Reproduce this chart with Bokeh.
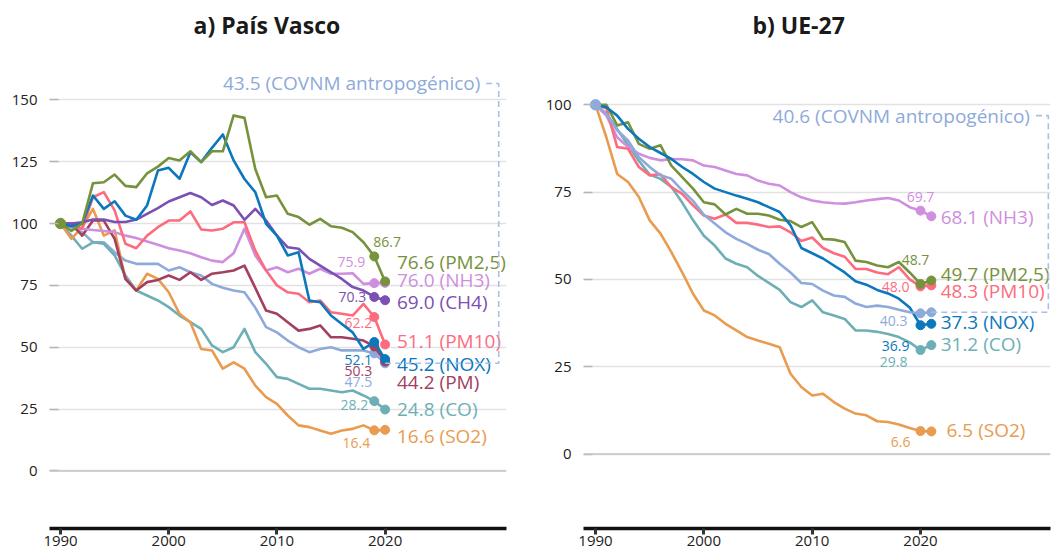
from bokeh.plotting import figure
from bokeh.layouts import row
from bokeh.models import ColumnDataSource, FixedTicker, Span
from bokeh.embed import file_html
from bokeh.resources import INLINE
from bokeh.core.properties import value

FONT = "Open Sans"

# ---------------- data: a) País Vasco (1990-2020) ----------------
pv_years = list(range(1990, 2021))
pv_pm25 = [100, 97, 100, 116.3, 116.7, 119.8, 115.2, 114.7, 120.3, 123, 126.5, 125.5, 129.2, 124.8, 129.2, 129.2,
           143.7, 142.7, 122, 110.6, 111.3, 103.9, 102.6, 99.5, 101.9, 98.9, 98.3, 96.5, 92.4, 86.7, 76.6]
pv_nh3 = [100, 98.9, 97.9, 97.4, 97, 96.5, 95.1, 94.1, 92.7, 91.4, 90, 89.1, 88, 86.4, 85, 84.4,
          88, 97.9, 87.1, 81, 82.3, 80.3, 81.7, 79.7, 81.7, 79.7, 79.7, 79.9, 75.6, 75.9, 76.0]
pv_ch4 = [100, 100, 100.5, 101.6, 101.6, 100.6, 100.6, 101.6, 103.9, 106.2, 108.9, 110.6, 112.3, 110.6, 107.5, 109.3,
          107.3, 101.5, 105.9, 101.2, 95.1, 90.4, 89.8, 85.7, 83, 80.3, 77.6, 74.3, 72.9, 70.3, 69.0]
pv_pm10 = [100, 99, 98, 110.6, 112.7, 105.3, 91.8, 90, 95.1, 98.5, 101.2, 101.2, 104.9, 97.6, 97.2, 97.9,
           100.5, 100.5, 89, 81, 75, 72.2, 71.6, 68.2, 68.9, 64.1, 63.5, 62.8, 67.5, 62.2, 51.1]
pv_nox = [100, 98.9, 100, 111.3, 105.9, 109, 103.2, 101.5, 107.3, 121.4, 122.5, 118.1, 128.8, 124.8, 130.6, 136,
          125.5, 118, 112.7, 99.9, 95.1, 87.1, 88.4, 68.9, 68.2, 62.8, 59.4, 56, 49.3, 52.1, 45.2]
pv_pm = [100, 100, 95.1, 101.2, 101.2, 93.8, 77.6, 72.9, 76.3, 77.2, 79, 77.2, 80.3, 77.2, 79.7, 80.3,
         81, 83, 74, 64.8, 63.5, 60.1, 56.7, 57.4, 58.8, 54, 54, 53.4, 52.7, 50.3, 44.2]
pv_covnm = [100, 98.5, 96.5, 92.4, 92.4, 88.4, 85, 83.7, 83.7, 83.7, 81, 82.3, 80.3, 79, 75.6, 74,
            72.9, 72.2, 66, 58.1, 56, 52.7, 50, 48, 49.3, 50, 48.7, 48.7, 48.7, 47.5, 43.5]
pv_co = [100, 95.1, 89.8, 92.4, 91.8, 87.1, 79, 72.9, 70.9, 68.9, 66.2, 62.8, 60.1, 57.4, 50.7, 48,
         50, 57.4, 48, 43.3, 37.9, 37.2, 35.2, 33.2, 33.2, 32.5, 31.8, 32.5, 30.5, 28.2, 24.8]
pv_so2 = [100, 93.8, 98.5, 105.9, 95.1, 97.2, 77.6, 72.9, 79.7, 77.6, 72.2, 63.5, 60.1, 49.3, 48.7, 41.3,
          43.9, 41.3, 34.5, 29.8, 27.1, 22.4, 18.4, 17.7, 16.3, 15, 16.3, 17, 18.4, 16.4, 16.6]

# ---------------- data: b) UE-27 (1990-2021) ----------------
eu_years = list(range(1990, 2022))
eu_pm25 = [100, 100, 94.1, 95, 88.8, 87.4, 88.4, 82.6, 79.3, 76, 72.1, 71.5, 68.6, 70.2, 68.8, 68.8,
           68.3, 67.1, 66.7, 65, 66.4, 61.6, 61.4, 60.7, 55.4, 55, 54, 53.5, 55, 52, 48.7, 49.7]
eu_pm10 = [100, 99, 87.9, 87.4, 82.2, 79.8, 80.1, 76.4, 74.5, 71.2, 68.3, 67.4, 68.6, 66.2, 66.2, 65.7,
           65, 65.2, 63.5, 61, 62, 59, 57.5, 56.5, 53, 53, 52, 51.5, 53.5, 50, 48.0, 48.3]
eu_nox = [100, 99.3, 96.9, 93.1, 90.3, 87.9, 86.2, 84.5, 82.2, 80.2, 77.9, 76, 75, 74, 73.1, 72.1,
          70.7, 69.3, 65.5, 59, 57.5, 56, 54, 52, 49.5, 48.5, 47, 46, 44.5, 42, 36.9, 37.3]
eu_nh3 = [100, 96.9, 90.7, 87.9, 86, 84.8, 84.1, 84.5, 84.4, 84.1, 82.6, 82.2, 81.2, 80.2, 79.8, 78.3,
          77.4, 76.9, 75, 73.5, 72.6, 72.1, 71.8, 71.7, 72.1, 72.6, 73, 73.3, 72.6, 70.7, 69.7, 68.1]
eu_covnm = [100, 97.4, 92.7, 89.8, 85, 82.2, 79.8, 78.8, 75.5, 72.5, 68.5, 66, 63.5, 61.6, 60.2, 58.5,
            57.3, 54.5, 52, 49, 48.7, 46.8, 45.4, 45, 43.1, 42.1, 42.5, 42.1, 41.3, 40.6, 40.3, 40.6]
eu_co = [100, 97.5, 93, 88.5, 84, 80, 78.8, 76.5, 72, 67, 62.5, 59.7, 56, 54.5, 53.5, 51,
         49, 47, 43.5, 42.1, 44, 40.6, 39.7, 38.7, 35.4, 35.4, 35, 34.4, 33.5, 32, 29.8, 31.2]
eu_so2 = [100, 90.7, 80.2, 77.9, 73.6, 66.9, 63.1, 57.8, 52, 45.9, 41.1, 39.7, 37.3, 35.4, 33.5, 32.5,
          31.6, 30.6, 23, 19.2, 16.8, 17.3, 14.9, 13, 11.6, 11.1, 9.4, 9.2, 8.5, 7.5, 6.6, 6.5]

y_ticks_pv = [0, 25, 50, 75, 100, 125, 150]
y_ticks_eu = [0, 25, 50, 75, 100]
x_ticks = [1990, 2000, 2010, 2020]

# ---------------- styles ----------------
C = {
    "PM2,5": "#76923c", "NH3": "#cf8ee0", "CH4": "#7b4fb3", "PM10": "#fd6c7e", "NOX": "#0b77bd",
    "PM": "#a3405f", "COVNM": "#8eaadb", "CO": "#6eafb6", "SO2": "#e99b4f",
}

# layout of labels: (end label y in data units, small label align, dx, dy)
pv_layout = {
    "COVNM": (None, "right", -2, 29), "CO": (25.1, "right", -6, 4), "SO2": (14.3, "right", -4, 13),
    "PM": (35.9, "right", -2, 25), "NH3": (77.0, "right", -9, -21), "PM10": (52.7, "right", -2, 6),
    "CH4": (68.2, "right", -8, 0), "NOX": (43.3, "right", -2, 18), "PM2,5": (84.4, "left", -1, -14),
}
eu_layout = {
    "SO2": (6.8, "right", -10, 11), "CO": (31.6, "right", -13, 12), "COVNM": (None, "right", -13, 8),
    "NH3": (67.8, "center", 0, -14), "PM10": (46.6, "right", -11, 1), "PM2,5": (51.7, "center", -5, -24),
    "NOX": (37.8, "right", -11, 21),
}

pv_series = {"COVNM": pv_covnm, "CO": pv_co, "SO2": pv_so2, "PM": pv_pm, "NH3": pv_nh3,
             "PM10": pv_pm10, "CH4": pv_ch4, "NOX": pv_nox, "PM2,5": pv_pm25}
eu_series = {"SO2": eu_so2, "CO": eu_co, "NH3": eu_nh3, "PM10": eu_pm10, "PM2,5": eu_pm25,
             "NOX": eu_nox, "COVNM": eu_covnm}


def make_fig(title, years, series, layout, xr, yr, yticks, left_border, right_border, label_x,
             so2_x, bracket_x, bracket_top, width, start_color, title_offset):
    p = figure(width=width, height=553, x_range=xr, y_range=yr, output_backend="svg",
               toolbar_location=None, min_border_left=left_border, min_border_right=right_border,
               min_border_top=46, min_border_bottom=25)
    p.outline_line_color = None
    p.background_fill_color = "white"
    p.border_fill_color = "white"
    p.title.text = title
    p.title.align = "left"
    p.title.offset = title_offset
    p.title.text_font = FONT
    p.title.text_font_size = "23px"
    p.title.text_font_style = "bold"
    p.title.text_color = "#1a1a1a"
    p.title.standoff = 12

    p.xgrid.grid_line_color = None
    p.ygrid.grid_line_color = "#e2e2e2"
    p.ygrid.grid_line_width = 1.5
    p.ygrid.ticker = FixedTicker(ticks=yticks)
    p.add_layout(Span(location=0, dimension="width", line_color="#c4c4c4", line_width=1.5))

    p.yaxis.ticker = FixedTicker(ticks=yticks)
    p.yaxis.axis_line_color = None
    p.yaxis.major_tick_in = 9
    p.yaxis.major_tick_out = 0
    p.yaxis.major_tick_line_color = "#b5b5b5"
    p.yaxis.major_tick_line_width = 1.5
    p.yaxis.minor_tick_line_color = None
    p.yaxis.major_label_standoff = 12
    p.yaxis.major_label_text_font = FONT
    p.yaxis.major_label_text_font_size = "15px"
    p.yaxis.major_label_text_color = "#222222"

    p.xaxis.ticker = FixedTicker(ticks=x_ticks)
    p.xaxis.axis_line_color = "#111111"
    p.xaxis.axis_line_width = 3.5
    p.xaxis.major_tick_in = 0
    p.xaxis.major_tick_out = 6
    p.xaxis.major_tick_line_color = "#333333"
    p.xaxis.major_tick_line_width = 3
    p.xaxis.minor_tick_line_color = None
    p.xaxis.major_label_standoff = 1
    p.xaxis.major_label_text_font = FONT
    p.xaxis.major_label_text_font_size = "15px"
    p.xaxis.major_label_text_color = "#222222"

    for name, vals in series.items():
        col = C[name]
        p.line(years, vals, line_color=col, line_width=2.6, line_join="round")
        p.scatter(years[-2:], vals[-2:], size=9, color=col)
        ly, align, dx, dy = layout[name]
        src = ColumnDataSource(dict(x=[years[-2]], y=[vals[-2]], t=[f"{vals[-2]:.1f}"]))
        p.text(x="x", y="y", text="t", source=src, text_align=align, text_baseline="middle",
               x_offset=dx, y_offset=dy, text_color=col, text_font=value(FONT),
               text_font_size="14px")
        if ly is not None:
            lx = so2_x if name == "SO2" else label_x
            p.text(x=[lx], y=[ly], text=[f"{vals[-1]:.1f} ({name})"], text_align="left",
                   text_baseline="middle", text_color=col, text_font=value(FONT),
                   text_font_size="19px")

    # start marker
    first = list(series.values())[0]
    p.scatter([years[0]], [first[0]], size=10.5, color=start_color)

    # COVNM bracket annotation
    cv = series["COVNM"]
    col = C["COVNM"]
    p.line([years[-1], bracket_x, bracket_x, bracket_x - 1.4],
           [cv[-1], cv[-1], bracket_top, bracket_top],
           line_color="#a9bfe6", line_width=1.6, line_dash="6 4")
    p.text(x=[bracket_x - 1.7], y=[bracket_top], text=[f"{cv[-1]:.1f} (COVNM antropogénico)"],
           text_align="right", text_baseline="middle", text_color=col, text_font=value(FONT),
           text_font_size="19px")
    return p


p1 = make_fig("a) País Vasco", pv_years, pv_series, pv_layout, (1988.98, 2031.22), (-23.28, 171.55),
              y_ticks_pv, 49, 2, 2021.1, 2021.1, 2030.5, 156.6, 508, C["PM2,5"], 144)
p2 = make_fig("b) UE-27", eu_years, eu_series, eu_layout, (1988.89, 2032.0), (-21.3, 116.69),
              y_ticks_eu, 75, 3, 2021.86, 2022.4, 2031.8, 96.9, 545, C["COVNM"], 169)

layout = row(p1, p2)
open("out.html", "w").write(file_html(layout, INLINE))
